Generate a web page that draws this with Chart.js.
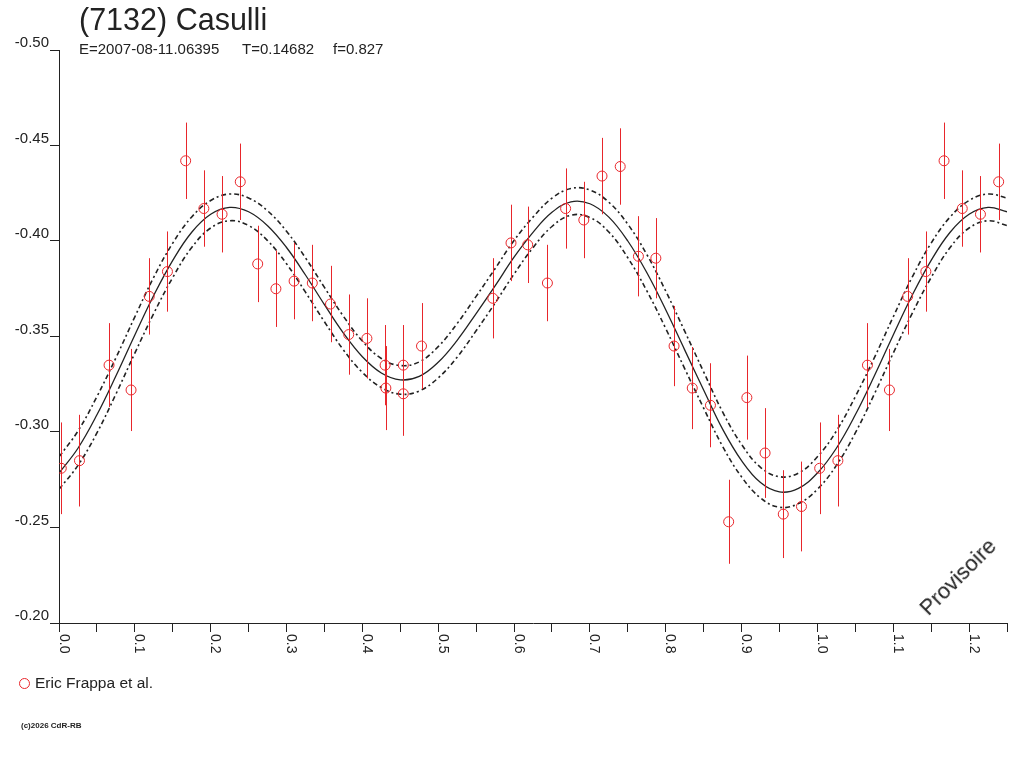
<!DOCTYPE html>
<html>
<head>
<meta charset="utf-8">
<title>(7132) Casulli</title>
<script src="https://cdn.jsdelivr.net/npm/chart.js@4.4.1/dist/chart.umd.min.js"></script>
<style>
  body { margin: 0; background: #fff; font-family: "Liberation Sans", Arial, sans-serif; color: #222; }
  #wrap { position: relative; width: 1024px; height: 768px; overflow: hidden; }
  canvas { position: absolute; left: 0; top: 0; }
  .t { position: absolute; white-space: pre; line-height: 1; }
</style>
</head>
<body>
<div id="wrap">
  <canvas id="lc" width="1024" height="768"></canvas>
  <div class="t" style="left:79px;top:4px;font-size:30.5px">(7132) Casulli</div>
  <div class="t" style="left:79px;top:41px;font-size:15px">E=2007-08-11.06395</div>
  <div class="t" style="left:242px;top:41px;font-size:15px">T=0.14682</div>
  <div class="t" style="left:333px;top:41px;font-size:15px">f=0.827</div>
  <div style="position:absolute;left:19px;top:678px;width:9px;height:9px;border:1px solid #e8262b;border-radius:50%"></div>
  <div class="t" style="left:35px;top:675px;font-size:15.5px">Eric Frappa et al.</div>
  <div class="t" style="left:21px;top:722px;font-size:8px;font-weight:bold">(c)2026 CdR-RB</div>
  <div class="t" style="left:958px;top:577px;font-size:22px;transform:translate(-50%,-50%) rotate(-45deg)">Provisoire</div>
</div>
<script>
// observations (phase, reduced magnitude, error)
const obsPhase = [0.003, 0.027, 0.066, 0.095, 0.119, 0.143, 0.167, 0.191, 0.215, 0.239,
                  0.262, 0.286, 0.310, 0.334, 0.358, 0.382, 0.406, 0.430, 0.431, 0.454,
                  0.454, 0.478, 0.572, 0.596, 0.618, 0.644, 0.668, 0.692, 0.716, 0.740,
                  0.764, 0.787, 0.811, 0.835, 0.859, 0.883, 0.907, 0.931, 0.955, 0.979];
const obsMag = [-0.281, -0.285, -0.335, -0.322, -0.371, -0.384, -0.442, -0.417, -0.414, -0.431,
                -0.388, -0.375, -0.379, -0.378, -0.367, -0.351, -0.349, -0.335, -0.323, -0.335,
                -0.320, -0.345, -0.370, -0.399, -0.398, -0.378, -0.417, -0.411, -0.434, -0.439,
                -0.392, -0.391, -0.345, -0.323, -0.314, -0.253, -0.318, -0.289, -0.257, -0.261];
const obsErr = [0.024, 0.024, 0.022, 0.0215, 0.020, 0.021, 0.020, 0.020, 0.020, 0.020,
                0.020, 0.020, 0.020, 0.020, 0.020, 0.021, 0.021, 0.021, 0.022, 0.021,
                0.022, 0.0225, 0.021, 0.020, 0.020, 0.020, 0.021, 0.020, 0.020, 0.020,
                0.021, 0.021, 0.021, 0.0215, 0.022, 0.022, 0.022, 0.0235, 0.023, 0.0235];

// fitted curve and its envelope, read every 0.025 in phase
const fitPhase = [0.000, 0.025, 0.050, 0.075, 0.100, 0.125, 0.150, 0.175, 0.200, 0.225,
                  0.250, 0.275, 0.300, 0.325, 0.350, 0.375, 0.400, 0.425, 0.450, 0.475,
                  0.500, 0.525, 0.550, 0.575, 0.600, 0.625, 0.650, 0.675, 0.700, 0.725,
                  0.750, 0.775, 0.800, 0.825, 0.850, 0.875, 0.900, 0.925, 0.950, 0.975];
const fitMag = [-0.2785, -0.2915, -0.3090, -0.3293, -0.3508, -0.3716, -0.3899, -0.4046, -0.4140, -0.4176,
                -0.4153, -0.4080, -0.3966, -0.3822, -0.3667, -0.3518, -0.3394, -0.3309, -0.3273, -0.3291,
                -0.3365, -0.3480, -0.3620, -0.3765, -0.3915, -0.4045, -0.4150, -0.4205, -0.4195, -0.4125,
                -0.4000, -0.3835, -0.3640, -0.3430, -0.3220, -0.3015, -0.2850, -0.2735, -0.2686, -0.2705];
const fitUpper = [-0.2870, -0.3005, -0.3185, -0.3388, -0.3603, -0.3811, -0.3989, -0.4126, -0.4212, -0.4246,
                  -0.4225, -0.4158, -0.4051, -0.3912, -0.3757, -0.3606, -0.3476, -0.3385, -0.3348, -0.3367,
                  -0.3447, -0.3568, -0.3710, -0.3855, -0.4003, -0.4125, -0.4224, -0.4275, -0.4267, -0.4203,
                  -0.4088, -0.3930, -0.3738, -0.3528, -0.3315, -0.3105, -0.2935, -0.2815, -0.2766, -0.2785];
const fitLower = [-0.2700, -0.2825, -0.2995, -0.3198, -0.3413, -0.3621, -0.3809, -0.3966, -0.4068, -0.4106,
                  -0.4081, -0.4002, -0.3881, -0.3732, -0.3577, -0.3430, -0.3312, -0.3233, -0.3198, -0.3215,
                  -0.3283, -0.3392, -0.3530, -0.3675, -0.3827, -0.3965, -0.4076, -0.4135, -0.4123, -0.4047,
                  -0.3912, -0.3740, -0.3542, -0.3332, -0.3125, -0.2925, -0.2765, -0.2655, -0.2606, -0.2625];

const xTickValues = [0, 0.1, 0.2, 0.3, 0.4, 0.5, 0.6, 0.7, 0.8, 0.9, 1.0, 1.1, 1.2];
const xTickLabels = ['0.0', '0.1', '0.2', '0.3', '0.4', '0.5', '0.6', '0.7', '0.8', '0.9', '1.0', '1.1', '1.2'];

const RED = '#e8262b';
const INK = '#222';
const PHASE_MAX = 1.25;

// phased plot: points of phase <= 0.25 are repeated one cycle later
function phased(ph, vals) {
  const out = ph.map((p, i) => ({ x: p, y: vals[i] }));
  ph.forEach((p, i) => { if (p + 1 <= PHASE_MAX) out.push({ x: p + 1, y: vals[i] }); });
  return out;
}
const obsPts = phased(obsPhase, obsMag);
const obsErrAll = obsErr.concat(obsErr.filter((e, i) => obsPhase[i] + 1 <= PHASE_MAX));

const extras = {
  id: 'extras',
  afterDatasetsDraw(chart) {
    const { ctx, scales: { x, y } } = chart;
    ctx.save();
    ctx.strokeStyle = RED;
    ctx.lineWidth = 1;
    obsPts.forEach((pt, i) => {
      const px = Math.round(x.getPixelForValue(pt.x)) + 0.5;
      ctx.beginPath();
      ctx.moveTo(px, y.getPixelForValue(pt.y - obsErrAll[i]));
      ctx.lineTo(px, y.getPixelForValue(pt.y + obsErrAll[i]));
      ctx.stroke();
    });
    // rotated x tick labels
    ctx.fillStyle = INK;
    ctx.font = '14px "Liberation Sans", Arial, sans-serif';
    ctx.textAlign = 'left';
    ctx.textBaseline = 'alphabetic';
    xTickValues.forEach((v, i) => {
      ctx.save();
      ctx.translate(x.getPixelForValue(v) + 0.5, y.bottom + 11);
      ctx.rotate(Math.PI / 2);
      ctx.fillText(xTickLabels[i], 0, 0);
      ctx.restore();
    });
    ctx.restore();
  }
};

const fitLine = { showLine: true, pointRadius: 0, borderColor: INK, tension: 0.4, fill: false };

new Chart(document.getElementById('lc'), {
  type: 'scatter',
  data: {
    datasets: [
      { data: obsPts, pointStyle: 'circle', pointRadius: 5, pointBorderWidth: 1,
        borderColor: RED, backgroundColor: 'rgba(0,0,0,0)' },
      Object.assign({ data: phased(fitPhase, fitMag), borderWidth: 1.3 }, fitLine),
      Object.assign({ data: phased(fitPhase, fitUpper), borderWidth: 1.6, borderDash: [5, 3, 2, 3] }, fitLine),
      Object.assign({ data: phased(fitPhase, fitLower), borderWidth: 1.6, borderDash: [5, 3, 2, 3] }, fitLine)
    ]
  },
  options: {
    responsive: false,
    animation: false,
    events: [],
    layout: { padding: { top: 50, right: 17, left: 0, bottom: 0 } },
    scales: {
      x: {
        type: 'linear', min: 0, max: PHASE_MAX,
        afterFit(s) { s.height = 145; },
        border: { color: INK, width: 1 },
        grid: { drawOnChartArea: false, tickLength: 9, color: INK },
        ticks: { stepSize: 0.05, display: false }
      },
      y: {
        type: 'linear', min: -0.5, max: -0.2, reverse: true,
        afterFit(s) { s.width = 59; },
        border: { color: INK, width: 1 },
        grid: { drawOnChartArea: false, tickLength: 9, color: INK },
        ticks: {
          stepSize: 0.05, padding: 1, labelOffset: -7, color: INK,
          font: { family: '"Liberation Sans", Arial, sans-serif', size: 15 },
          callback: v => v.toFixed(2)
        }
      }
    },
    plugins: { legend: { display: false }, tooltip: { enabled: false } }
  },
  plugins: [extras]
});
</script>
</body>
</html>
